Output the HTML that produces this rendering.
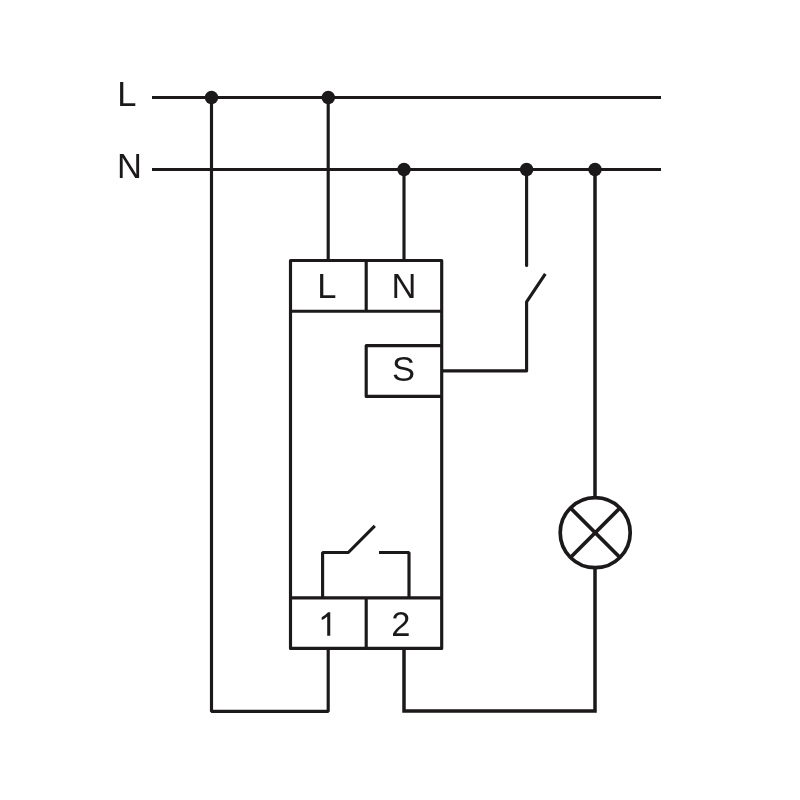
<!DOCTYPE html>
<html><head><meta charset="utf-8">
<style>
html,body{margin:0;padding:0;background:#fff;width:800px;height:800px;overflow:hidden}
svg{display:block;will-change:transform}
text{font-family:"Liberation Sans",sans-serif;font-size:34.5px;fill:#1c191a}
.t{opacity:0.999}
</style></head><body>
<svg width="800" height="800" viewBox="0 0 800 800">
<rect width="800" height="800" fill="#fff"/>
<g fill="none" stroke="#1c191a" stroke-width="3.15" stroke-linejoin="bevel">
  <!-- bus lines -->
  <path d="M152 97.5 H661"/>
  <path d="M152 169.5 H661"/>
  <!-- L wire to terminal 1 -->
  <path d="M211.5 97.5 V711.4 H328.2 V648.4"/>
  <!-- L wire to box L -->
  <path d="M328.2 97.5 V260.5"/>
  <!-- N wire to box N -->
  <path d="M404 169.5 V260.5"/>
  <!-- external switch -->
  <path d="M526.6 169.5 V265.5" stroke-linecap="round"/>
  <path d="M545.3 273.8 L526.6 301.8 V370.8 H441.7" stroke-linejoin="round"/>
  <!-- box -->
  <path d="M290.5 260.5 H441.7 V648.4 H290.5 Z" stroke-linejoin="round"/>
  <path d="M290.5 311.2 H441.7"/>
  <path d="M366.2 260.5 V311.2"/>
  <path d="M290.5 597.8 H441.7"/>
  <path d="M366.2 597.8 V648.4"/>
  <path d="M441.7 345.6 H366.2 V396.4 H441.7" stroke-linejoin="round"/>
  <!-- relay contact -->
  <path d="M322.6 597.8 V552.5 H348.3 L374.8 525.8"/>
  <path d="M379 552.5 H409 V597.8"/>
</g>
<g fill="none" stroke="#1c191a" stroke-width="3.5">
  <path d="M595 169.5 V497.7"/>
  <path d="M595 567.7 V711.1 H404 V648.4"/>
</g>
<g fill="none" stroke="#1c191a" stroke-width="3.7">
  <circle cx="595.2" cy="532.7" r="35"/>
  <path d="M570.45 507.95 L619.95 557.45 M619.95 507.95 L570.45 557.45"/>
</g>
<g fill="#1c191a">
  <circle cx="211.5" cy="97.5" r="6.75"/>
  <circle cx="328.3" cy="97.5" r="6.75"/>
  <circle cx="404" cy="169.5" r="6.75"/>
  <circle cx="526.6" cy="169.5" r="6.75"/>
  <circle cx="595" cy="169.5" r="6.75"/>
</g>
<g class="t">
<text x="117.2" y="105.9">L</text>
<text x="117" y="177.8">N</text>
<text x="317.2" y="298">L</text>
<text x="391.5" y="298">N</text>
<text x="392" y="381">S</text>
<path d="M330.25 635.75 H327.22 V616.43 Q324.9 618.6 321.68 620.1 V617.17 Q325.3 615.3 328.03 612.2 H330.25 Z" fill="#1c191a"/>
<text x="391.3" y="635.8">2</text>
</g>
</svg>
</body></html>
